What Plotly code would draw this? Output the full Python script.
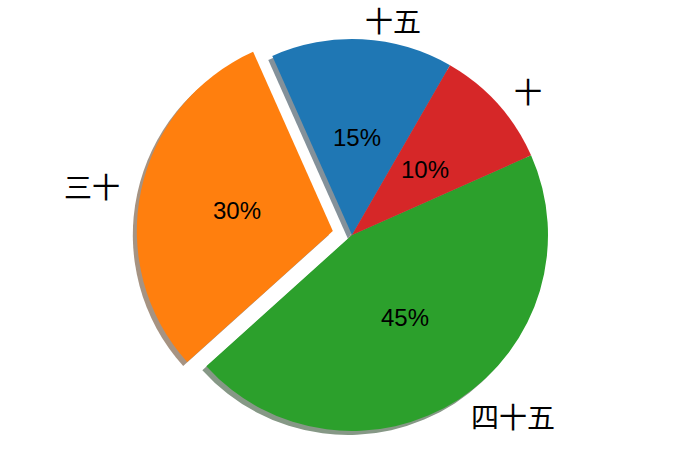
import math
import plotly.graph_objects as go

labels = ["十五", "三十", "四十五", "十"]
sizes = [15, 30, 45, 10]
pulls = [0, 0.1, 0, 0]
colors = ["#1f77b4", "#ff7f0e", "#2ca02c", "#d62728"]

W, H = 691, 464
START = 60          # start angle (deg, counter-clockwise from 3 o'clock)
CX, CY = 352, 235   # pie centre in pixels
BOX = 431.2         # domain box size in pixels
R = BOX / (2 + 2 * max(pulls))
SHADOW = 4          # shadow offset in pixels
LABEL_DIST = 1.1
PCT_DIST = 0.5

total = sum(sizes)
# plotly (counterclockwise) places the first slice's far edge at `rotation`
ROT = 90 - START - 360 * sizes[0] / total


def dom(cx, cy):
    return dict(x=[(cx - BOX / 2) / W, (cx + BOX / 2) / W],
                y=[1 - (cy + BOX / 2) / H, 1 - (cy - BOX / 2) / H])


def shade(hexc):
    r, g, b = (int(hexc[i:i + 2], 16) for i in (1, 3, 5))
    f = lambda v: round(0.5 * 255 + 0.5 * 0.3 * v)
    return f"rgb({f(r)},{f(g)},{f(b)})"


fig = go.Figure()
fig.add_trace(go.Pie(
    labels=labels, values=sizes, pull=pulls, sort=False,
    direction="counterclockwise", rotation=ROT,
    marker=dict(colors=[shade(c) for c in colors]),
    textinfo="none", hoverinfo="skip", showlegend=False,
    domain=dom(CX - SHADOW, CY + SHADOW)))
fig.add_trace(go.Pie(
    labels=labels, values=sizes, pull=pulls, sort=False,
    direction="counterclockwise", rotation=ROT,
    marker=dict(colors=colors),
    textinfo="none", showlegend=False,
    domain=dom(CX, CY)))

theta = START
annotations = []
for lab, v, p in zip(labels, sizes, pulls):
    span = 360 * v / total
    mid = math.radians(theta + span / 2)
    theta += span
    ox = CX + p * R * math.cos(mid)
    oy = CY - p * R * math.sin(mid)
    lx = ox + LABEL_DIST * R * math.cos(mid)
    ly = oy - LABEL_DIST * R * math.sin(mid)
    annotations.append(dict(
        x=lx / W, y=1 - ly / H, xref="paper", yref="paper",
        text=lab, showarrow=False,
        xanchor="left" if math.cos(mid) > 0 else "right", yanchor="middle",
        font=dict(family="Noto Sans CJK SC", size=28, color="black")))
    px = ox + PCT_DIST * R * math.cos(mid)
    py = oy - PCT_DIST * R * math.sin(mid)
    annotations.append(dict(
        x=px / W, y=1 - py / H, xref="paper", yref="paper",
        text=f"{100 * v / total:.0f}%", showarrow=False,
        xanchor="center", yanchor="middle",
        font=dict(family="Liberation Sans, Arial", size=24, color="black")))

fig.update_layout(
    width=W, height=H, margin=dict(l=0, r=0, t=0, b=0),
    paper_bgcolor="white", plot_bgcolor="white",
    annotations=annotations)

fig.write_html("out.html",
               config={"displayModeBar": False},
               post_script="document.body.style.margin='0';")
